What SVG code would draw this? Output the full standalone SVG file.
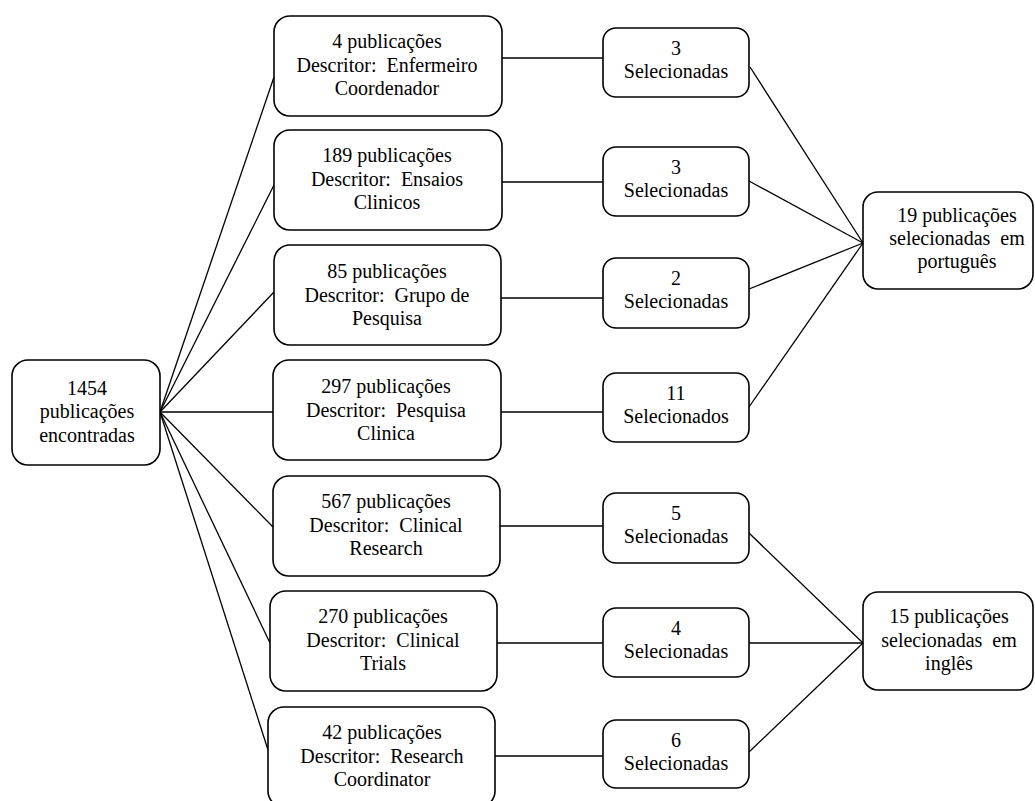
<svg xmlns="http://www.w3.org/2000/svg" width="1035" height="801" viewBox="0 0 1035 801">
<style>
.box{fill:#fff;stroke:#000;stroke-width:1.6}
.t{font-family:"Liberation Serif","Times New Roman",serif;font-size:20px;fill:#000;text-anchor:middle}
.c{stroke:#000;stroke-width:1.3;fill:none}
</style>
<rect width="1035" height="801" fill="#fff"/>
<g id="connectors">
<line class="c" x1="160" y1="412" x2="274" y2="77"/>
<line class="c" x1="160" y1="412" x2="274" y2="185"/>
<line class="c" x1="160" y1="412" x2="274" y2="292"/>
<line class="c" x1="160" y1="412" x2="273" y2="412"/>
<line class="c" x1="160" y1="412" x2="273" y2="527"/>
<line class="c" x1="160" y1="412" x2="270" y2="643"/>
<line class="c" x1="160" y1="412" x2="268" y2="750"/>
<line class="c" x1="501" y1="58" x2="603" y2="58"/>
<line class="c" x1="501" y1="182" x2="603" y2="182"/>
<line class="c" x1="501" y1="298" x2="603" y2="298"/>
<line class="c" x1="501" y1="412" x2="603" y2="412"/>
<line class="c" x1="500" y1="526" x2="603" y2="526"/>
<line class="c" x1="497" y1="643" x2="603" y2="643"/>
<line class="c" x1="495" y1="756" x2="603" y2="756"/>
<line class="c" x1="750" y1="67" x2="863" y2="243"/>
<line class="c" x1="749" y1="181" x2="863" y2="243"/>
<line class="c" x1="749" y1="289" x2="863" y2="243"/>
<line class="c" x1="749" y1="407" x2="863" y2="243"/>
<line class="c" x1="749" y1="533" x2="863" y2="643"/>
<line class="c" x1="749" y1="643" x2="863" y2="643"/>
<line class="c" x1="749" y1="752" x2="863" y2="643"/>
</g>
<g id="n_total">
<rect class="box" x="12" y="360" width="148" height="105" rx="16"/>
<text class="t" x="87" y="395">1454</text>
<text class="t" x="87" y="418">publicações</text>
<text class="t" x="87" y="442">encontradas</text>
</g>
<g id="n_d1">
<rect class="box" x="274" y="16" width="228" height="100" rx="16"/>
<text class="t" x="387" y="48">4 publicações</text>
<text class="t" x="387" y="72" xml:space="preserve">Descritor:  Enfermeiro</text>
<text class="t" x="387" y="95">Coordenador</text>
</g>
<g id="n_d2">
<rect class="box" x="274" y="130" width="228" height="100" rx="16"/>
<text class="t" x="387" y="162">189 publicações</text>
<text class="t" x="387" y="186" xml:space="preserve">Descritor:  Ensaios</text>
<text class="t" x="387" y="209">Clinicos</text>
</g>
<g id="n_d3">
<rect class="box" x="274" y="245" width="227" height="100" rx="16"/>
<text class="t" x="387" y="278">85 publicações</text>
<text class="t" x="387" y="302" xml:space="preserve">Descritor:  Grupo de</text>
<text class="t" x="387" y="325">Pesquisa</text>
</g>
<g id="n_d4">
<rect class="box" x="273" y="360" width="228" height="100" rx="16"/>
<text class="t" x="386" y="393">297 publicações</text>
<text class="t" x="386" y="417" xml:space="preserve">Descritor:  Pesquisa</text>
<text class="t" x="386" y="440">Clinica</text>
</g>
<g id="n_d5">
<rect class="box" x="273" y="476" width="227" height="100" rx="16"/>
<text class="t" x="386" y="508">567 publicações</text>
<text class="t" x="386" y="532" xml:space="preserve">Descritor:  Clinical</text>
<text class="t" x="386" y="555">Research</text>
</g>
<g id="n_d6">
<rect class="box" x="270" y="591" width="227" height="100" rx="16"/>
<text class="t" x="383" y="623">270 publicações</text>
<text class="t" x="383" y="647" xml:space="preserve">Descritor:  Clinical</text>
<text class="t" x="383" y="670">Trials</text>
</g>
<g id="n_d7">
<rect class="box" x="268" y="707" width="227" height="100" rx="16"/>
<text class="t" x="382" y="739">42 publicações</text>
<text class="t" x="382" y="763" xml:space="preserve">Descritor:  Research</text>
<text class="t" x="382" y="786">Coordinator</text>
</g>
<g id="n_s1">
<rect class="box" x="603" y="28" width="146" height="69" rx="13"/>
<text class="t" x="676" y="55">3</text>
<text class="t" x="676" y="78">Selecionadas</text>
</g>
<g id="n_s2">
<rect class="box" x="603" y="147" width="146" height="69" rx="13"/>
<text class="t" x="676" y="174">3</text>
<text class="t" x="676" y="197">Selecionadas</text>
</g>
<g id="n_s3">
<rect class="box" x="603" y="258" width="146" height="70" rx="13"/>
<text class="t" x="676" y="285">2</text>
<text class="t" x="676" y="308">Selecionadas</text>
</g>
<g id="n_s4">
<rect class="box" x="603" y="373" width="146" height="69" rx="13"/>
<text class="t" x="676" y="400">11</text>
<text class="t" x="676" y="423">Selecionados</text>
</g>
<g id="n_s5">
<rect class="box" x="603" y="493" width="146" height="70" rx="13"/>
<text class="t" x="676" y="520">5</text>
<text class="t" x="676" y="543">Selecionadas</text>
</g>
<g id="n_s6">
<rect class="box" x="603" y="608" width="146" height="69" rx="13"/>
<text class="t" x="676" y="635">4</text>
<text class="t" x="676" y="658">Selecionadas</text>
</g>
<g id="n_s7">
<rect class="box" x="603" y="720" width="146" height="68" rx="13"/>
<text class="t" x="676" y="747">6</text>
<text class="t" x="676" y="770">Selecionadas</text>
</g>
<g id="n_pt">
<rect class="box" x="863" y="192" width="170" height="97" rx="15"/>
<text class="t" x="957" y="222">19 publicações</text>
<text class="t" x="957" y="245" xml:space="preserve">selecionadas  em</text>
<text class="t" x="957" y="268">português</text>
</g>
<g id="n_en">
<rect class="box" x="863" y="592" width="170" height="98" rx="15"/>
<text class="t" x="949" y="623">15 publicações</text>
<text class="t" x="949" y="647" xml:space="preserve">selecionadas  em</text>
<text class="t" x="949" y="670">inglês</text>
</g>
</svg>
